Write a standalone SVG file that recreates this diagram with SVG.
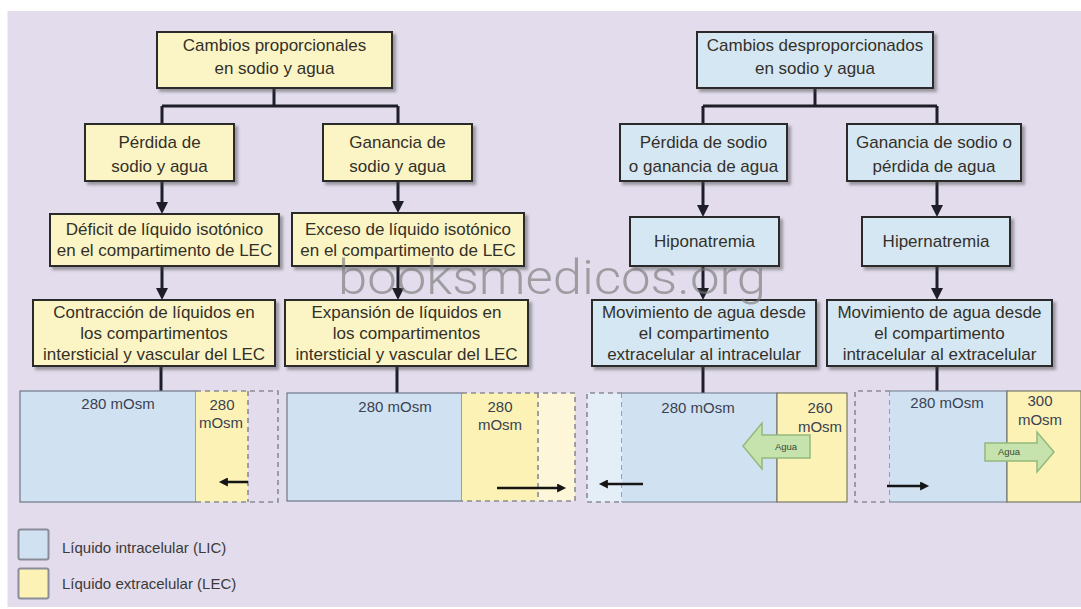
<svg xmlns="http://www.w3.org/2000/svg" width="1081" height="609" viewBox="0 0 1081 609">
<defs>
<style>
.bg{fill:#e2dcec}
.by{fill:#fbf5c6;stroke:#2b2b2b;stroke-width:2;filter:url(#sh)}
.bb{fill:#d6e7f4;stroke:#2b2b2b;stroke-width:2;filter:url(#sh)}
.t{font-family:"Liberation Sans",Arial,sans-serif;font-size:17px;fill:#333028;text-anchor:middle}
.pt{font-family:"Liberation Sans",Arial,sans-serif;font-size:15px;fill:#3a4150;text-anchor:middle}
.lt{font-family:"Liberation Sans",Arial,sans-serif;font-size:15px;fill:#3a3a3a}
.at{font-family:"Liberation Sans",Arial,sans-serif;font-size:9.5px;fill:#3a4a30;text-anchor:middle}
.c{fill:none;stroke:#1e1e28;stroke-width:3}
.ca{fill:none;stroke:#1e1e28;stroke-width:3;marker-end:url(#ah)}
.pa{fill:none;stroke:#151515;stroke-width:2.5;marker-end:url(#ah2)}
.lic{fill:#d0e2f2;stroke:#6d7888;stroke-width:1.2}
.lec{fill:#fcf2b6;stroke:#7a7a66;stroke-width:1.2}
.dash{fill:none;stroke:#8a8a96;stroke-width:1.6;stroke-dasharray:5 4}
.ga{fill:#c6e2ad;stroke:#92b97c;stroke-width:1.5}
.wm{font-family:Roboto,"Liberation Sans",Arial,sans-serif;font-weight:300;font-size:49px;fill:#7a7a7a;fill-opacity:0.65}
</style>
<filter id="sh" x="-10%" y="-10%" width="125%" height="135%">
<feDropShadow dx="3" dy="3" stdDeviation="1.5" flood-color="#404040" flood-opacity="0.45"/>
</filter>
<marker id="ah" viewBox="0 0 12 12" refX="1" refY="6" markerWidth="12" markerHeight="12" markerUnits="userSpaceOnUse" orient="auto">
<path d="M0,0 L12,6 L0,12 z" fill="#1e1e28"/>
</marker>
<marker id="ah2" viewBox="0 0 10 10" refX="1" refY="5" markerWidth="10" markerHeight="9" markerUnits="userSpaceOnUse" orient="auto">
<path d="M0,0 L10,5 L0,10 z" fill="#151515"/>
</marker>
</defs>

<rect class="bg" x="7.5" y="11" width="1073.5" height="596"/>

<g id="connectors">
<path class="c" d="M274,88 V106 M162,106 H398 M162,106 V124 M398,106 V124"/>
<path class="c" d="M815,88 V106 M703,106 H937 M703,106 V124 M937,106 V124"/>
<path class="ca" d="M162,181 V203"/>
<path class="ca" d="M398,181 V202"/>
<path class="ca" d="M703,181 V206"/>
<path class="ca" d="M937,181 V206"/>
<path class="ca" d="M162,266 V289"/>
<path class="ca" d="M398,266 V289"/>
<path class="ca" d="M703,266 V289"/>
<path class="ca" d="M937,266 V289"/>
<path class="c" d="M161,366 V391 M397,366 V393 M703,366 V393 M937,366 V391"/>
</g>

<g id="n1"><rect class="by" x="157" y="32" width="235" height="56"/>
<text class="t" x="274.5" y="51">Cambios proporcionales</text><text class="t" x="274.5" y="74">en sodio y agua</text></g>
<g id="n2"><rect class="bb" x="697" y="32" width="236" height="56"/>
<text class="t" x="815" y="51">Cambios desproporcionados</text><text class="t" x="815" y="74">en sodio y agua</text></g>

<g id="n3"><rect class="by" x="85" y="124" width="149" height="57"/>
<text class="t" x="159.5" y="148">Pérdida de</text><text class="t" x="159.5" y="172">sodio y agua</text></g>
<g id="n4"><rect class="by" x="323" y="124" width="149" height="57"/>
<text class="t" x="397.5" y="148">Ganancia de</text><text class="t" x="397.5" y="172">sodio y agua</text></g>
<g id="n5"><rect class="bb" x="620" y="124" width="167" height="57"/>
<text class="t" x="703.5" y="148">Pérdida de sodio</text><text class="t" x="703.5" y="172">o ganancia de agua</text></g>
<g id="n6"><rect class="bb" x="847" y="124" width="174" height="57"/>
<text class="t" x="934" y="148">Ganancia de sodio o</text><text class="t" x="934" y="172">pérdida de agua</text></g>

<g id="n7"><rect class="by" x="50" y="214" width="229" height="52"/>
<text class="t" x="164.5" y="235">Déficit de líquido isotónico</text><text class="t" x="164.5" y="256">en el compartimento de LEC</text></g>
<g id="n8"><rect class="by" x="292" y="213" width="232" height="53"/>
<text class="t" x="408" y="235">Exceso de líquido isotónico</text><text class="t" x="408" y="256">en el compartimento de LEC</text></g>
<g id="n9"><rect class="bb" x="630" y="217" width="149" height="49"/>
<text class="t" x="704.5" y="247">Hiponatremia</text></g>
<g id="n10"><rect class="bb" x="862" y="217" width="148" height="49"/>
<text class="t" x="936" y="247">Hipernatremia</text></g>

<g id="n11"><rect class="by" x="33" y="300" width="242" height="66"/>
<text class="t" x="154" y="318">Contracción de líquidos en</text><text class="t" x="154" y="339">los compartimentos</text><text class="t" x="154" y="360">intersticial y vascular del LEC</text></g>
<g id="n12"><rect class="by" x="285" y="300" width="243" height="66"/>
<text class="t" x="406.5" y="318">Expansión de líquidos en</text><text class="t" x="406.5" y="339">los compartimentos</text><text class="t" x="406.5" y="360">intersticial y vascular del LEC</text></g>
<g id="n13"><rect class="bb" x="592" y="300" width="224" height="66"/>
<text class="t" x="704" y="318">Movimiento de agua desde</text><text class="t" x="704" y="339">el compartimento</text><text class="t" x="704" y="360">extracelular al intracelular</text></g>
<g id="n14"><rect class="bb" x="827" y="300" width="225" height="66"/>
<text class="t" x="939.5" y="318">Movimiento de agua desde</text><text class="t" x="939.5" y="339">el compartimento</text><text class="t" x="939.5" y="360">intracelular al extracelular</text></g>

<g id="panel1">
<rect class="lic" x="20" y="391" width="176" height="111"/>
<rect x="196" y="391" width="52" height="111" fill="#fcf2b6"/>
<path class="dash" d="M196,391 H278 V502 H196 M248,391 V502"/>
<text class="pt" x="118" y="409">280 mOsm</text>
<text class="pt" x="222" y="410">280</text><text class="pt" x="221" y="428">mOsm</text>
<path class="pa" d="M248,482 H227"/>
</g>

<g id="panel2">
<rect class="lic" x="287" y="393" width="175" height="108"/>
<rect x="462" y="393" width="76" height="108" fill="#fcf2b6"/>
<rect x="538" y="393" width="37" height="108" fill="#fdf6d8"/>
<path class="dash" d="M462,393 H575 V501 H462 M538,393 V501"/>
<text class="pt" x="395" y="412">280 mOsm</text>
<text class="pt" x="500" y="412">280</text><text class="pt" x="500" y="430">mOsm</text>
<path class="pa" d="M497,488 H558"/>
</g>

<g id="panel3">
<rect x="587" y="393" width="35" height="109" fill="#e4eef7"/>
<path class="dash" d="M622,393 H587 V502 H622 M622,393 V502"/>
<path class="lic" d="M622,393 H777 V502 H622"/>
<rect class="lec" x="777" y="393" width="70" height="109"/>
<text class="pt" x="698" y="413">280 mOsm</text>
<text class="pt" x="820" y="413">260</text><text class="pt" x="820" y="432">mOsm</text>
<path class="ga" d="M810,435 H762 V423 L743,446 L762,469 V458 H810 z"/>
<text class="at" x="786" y="450">Agua</text>
<path class="pa" d="M643,484 H607"/>
</g>

<g id="panel4">
<path class="dash" d="M890,391 H855 V502 H890 M890,391 V502"/>
<path class="lic" d="M890,391 H1007 V502 H890"/>
<rect class="lec" x="1007" y="391" width="74" height="111"/>
<text class="pt" x="947" y="408">280 mOsm</text>
<text class="pt" x="1040" y="406">300</text><text class="pt" x="1040" y="425">mOsm</text>
<path class="ga" d="M985,443 H1037 V432 L1054,452 L1037,472 V461 H985 z"/>
<text class="at" x="1009" y="455">Agua</text>
<path class="pa" d="M887,486 H921"/>
</g>

<g id="legend">
<rect x="18.5" y="529.5" width="30" height="30" rx="2" fill="#d0e2f2" stroke="#8a8c9a" stroke-width="2"/>
<rect x="18.5" y="568.5" width="30" height="30" rx="2" fill="#fcf2b6" stroke="#8a8c9a" stroke-width="2"/>
<text class="lt" x="62" y="553">Líquido intracelular (LIC)</text>
<text class="lt" x="62" y="589">Líquido extracelular (LEC)</text>
</g>

<text class="wm" x="338" y="294" textLength="428" lengthAdjust="spacingAndGlyphs">booksmedicos.org</text>
</svg>
